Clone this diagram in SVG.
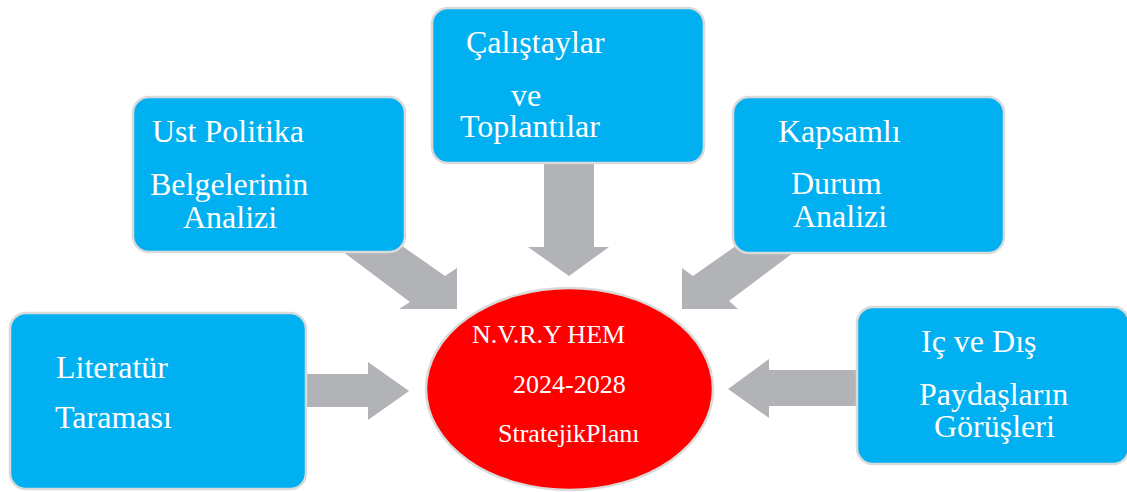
<svg xmlns="http://www.w3.org/2000/svg" width="1127" height="492" viewBox="0 0 1127 492">
<style>
.box{fill:#00b0f0;stroke:#dadada;stroke-width:2.5}
.arr{fill:#b1b3b7}
.t{font-family:"Liberation Serif","Times New Roman",serif;font-size:32px;fill:#ffffff}
.c{font-family:"Liberation Serif","Times New Roman",serif;font-size:26px;fill:#ffffff}
</style>
<rect width="1127" height="492" fill="#ffffff"/>
<g id="connectors">
<polygon class="arr" points="290,374 368,374 368,362 409,391 368,420 368,407 290,407"/>
<polygon class="arr" points="870,370 769,370 769,359 728,389 769,418 769,406 870,406"/>
<polygon class="arr" points="544,150 594,150 594,247 609,247 569,276 528,247 544,247"/>
<polygon class="arr" points="330,242 395,241 445,276 457,268 457,309 399,309 410,302"/>
<polygon class="arr" points="750,236 693,276 682,268 682,309 738,309 729,301 805,244"/>
</g>
<g id="node-ust">
<rect class="box" x="133" y="97" width="272" height="155" rx="16"/>
<text class="t" x="152" y="142">Ust Politika</text>
<text class="t" x="150" y="195">Belgelerinin</text>
<text class="t" x="183" y="228">Analizi</text>
</g>
<g id="node-calistay">
<rect class="box" x="432" y="8" width="272" height="155" rx="16"/>
<text class="t" x="466" y="53">Çalıştaylar</text>
<text class="t" x="511" y="106">ve</text>
<text class="t" x="460" y="137">Toplantılar</text>
</g>
<g id="node-kapsamli">
<rect class="box" x="733" y="97" width="271" height="156" rx="16"/>
<text class="t" x="778" y="142">Kapsamlı</text>
<text class="t" x="791" y="194">Durum</text>
<text class="t" x="793" y="227">Analizi</text>
</g>
<g id="node-literatur">
<rect class="box" x="10" y="313" width="296" height="176" rx="16"/>
<text class="t" x="56" y="378">Literatür</text>
<text class="t" x="55" y="428">Taraması</text>
</g>
<g id="node-paydas">
<rect class="box" x="857" y="307" width="272" height="157" rx="16"/>
<text class="t" x="921" y="352">Iç ve Dış</text>
<text class="t" x="919" y="405">Paydaşların</text>
<text class="t" x="934" y="437">Görüşleri</text>
</g>
<g id="node-center">
<ellipse cx="569.5" cy="389" rx="143.5" ry="101" fill="#ff0000" stroke="#dadada" stroke-width="2.5"/>
<text class="c" x="472" y="343" font-size="26.6">N.V.R.Y HEM</text>
<text class="c" x="513" y="393">2024-2028</text>
<text class="c" x="498" y="442" font-size="26.4">StratejikPlanı</text>
</g>
</svg>
